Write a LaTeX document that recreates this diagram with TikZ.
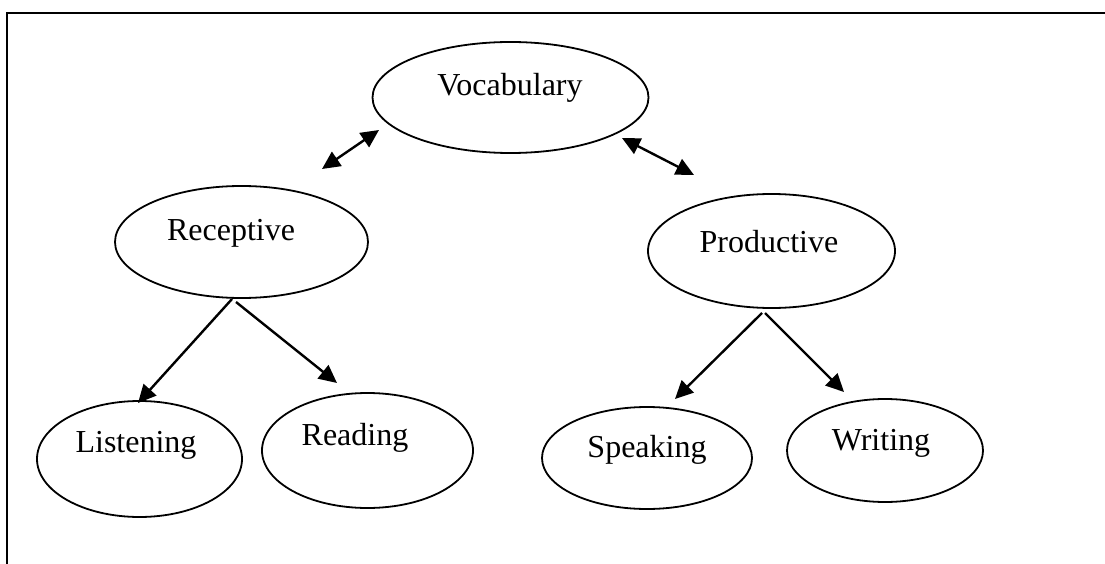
\documentclass[tikz,border=0pt]{standalone}
\usepackage{fontspec}
\setmainfont{Liberation Serif}
\usetikzlibrary{shapes.geometric,arrows.meta}
\begin{document}
\begin{tikzpicture}[x=1pt,y=-1pt,
  oval/.style={ellipse,draw,line width=1.8pt,inner sep=0pt},
  lbl/.style={font=\fontsize{32}{38}\selectfont,inner sep=0pt},
  frame/.style={line width=1.5pt},
  conn/.style={line width=2.4pt,-{Triangle[length=18pt,width=17pt]}},
  dconn/.style={line width=2.4pt,{Triangle[length=18pt,width=17pt]}-{Triangle[length=18pt,width=17pt]}}]
\useasboundingbox (0,0) rectangle (1105,564);
% frame
\coordinate (fl) at (7,564);
\coordinate (ftl) at (7,13);
\coordinate (ftr) at (1105,13);
\draw[frame] (fl) -- (ftl) -- (ftr);
% ellipses
\node[oval,minimum width=276pt,minimum height=111pt] (voc) at (510.5,97.5) {};
\node[oval,minimum width=253pt,minimum height=112pt] (rec) at (241.5,242) {};
\node[oval,minimum width=247pt,minimum height=114pt] (pro) at (771.5,251) {};
\node[oval,minimum width=205pt,minimum height=116pt] (lis) at (139.5,459) {};
\node[oval,minimum width=211pt,minimum height=115pt] (rea) at (367.5,450.5) {};
\node[oval,minimum width=210pt,minimum height=102pt] (spe) at (647,458) {};
\node[oval,minimum width=196pt,minimum height=103pt] (wri) at (885,450.5) {};
% labels
\node[lbl] (voct) at (510,88) {Vocabulary};
\node[lbl] (rect) at (231,233) {Receptive};
\node[lbl] (prot) at (769,242) {Productive};
\node[lbl] (list) at (136,445) {Listening};
\node[lbl] (reat) at (355,438) {Reading};
\node[lbl] (spet) at (647,450) {Speaking};
\node[lbl] (writ) at (881,443) {Writing};
% connector ends
\coordinate (vr1) at (379,130);
\coordinate (vr2) at (322,169);
\coordinate (vp1) at (622,138);
\coordinate (vp2) at (694,175);
\coordinate (rl1) at (232,299);
\coordinate (rl2) at (138,403);
\coordinate (rr1) at (236,302);
\coordinate (rr2) at (337,383);
\coordinate (ps1) at (762,313);
\coordinate (ps2) at (675,399);
\coordinate (pw1) at (765,313);
\coordinate (pw2) at (844,392);
\draw[dconn] (vr1) -- (vr2);
\draw[dconn] (vp1) -- (vp2);
\draw[conn] (rl1) -- (rl2);
\draw[conn] (rr1) -- (rr2);
\draw[conn] (ps1) -- (ps2);
\draw[conn] (pw1) -- (pw2);
\end{tikzpicture}
\end{document}
